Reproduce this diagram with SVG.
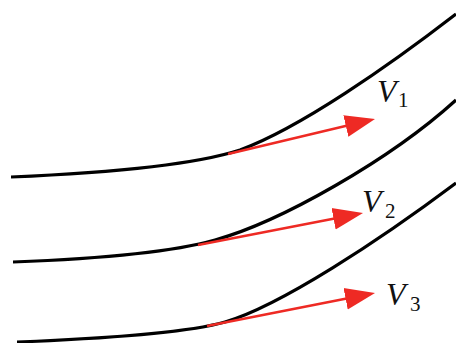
<svg xmlns="http://www.w3.org/2000/svg" width="456" height="343" viewBox="0 0 456 343">
<style>
.curve{fill:none;stroke:#000;stroke-width:3.2;stroke-linecap:butt}
.vec{fill:none;stroke:#ee2a24;stroke-width:2.5;marker-end:url(#head)}
.v{font-family:"Liberation Serif",serif;font-style:italic;font-size:32px;fill:#111}
.s{font-family:"Liberation Serif",serif;font-size:21px;fill:#111}
</style>
<defs>
<marker id="head" markerUnits="userSpaceOnUse" markerWidth="30" markerHeight="24" viewBox="0 -12 30 24" refX="5" refY="0" orient="auto">
<path d="M0,-11 L30,0 L0,11 z" fill="#ee2a24"/>
</marker>
</defs>
<rect width="456" height="343" fill="#fff"/>
<g id="streamlines">
<path id="c1" class="curve" d="M11,177 C130,172 200,163 240,150 C300,128 390,65 456,14"/>
<path id="c2" class="curve" d="M13,262 C120,258 180,250 215,240 C280,222 390,160 456,100"/>
<path id="c3" class="curve" d="M17,342 C120,338 190,332 225,322 C280,306 380,240 456,183"/>
</g>
<g id="vectors">
<line class="vec" x1="228" y1="154" x2="350.7" y2="124.8"/>
<line class="vec" x1="198" y1="245" x2="338.45" y2="217.75"/>
<line class="vec" x1="207" y1="326" x2="350.5" y2="297.8"/>
</g>
<g id="label-v1"><text class="v" x="377" y="102">V</text><text class="s" x="398" y="107">1</text></g>
<g id="label-v2"><text class="v" x="362" y="212">V</text><text class="s" x="385" y="218">2</text></g>
<g id="label-v3"><text class="v" x="386" y="305">V</text><text class="s" x="410" y="311">3</text></g>
</svg>
